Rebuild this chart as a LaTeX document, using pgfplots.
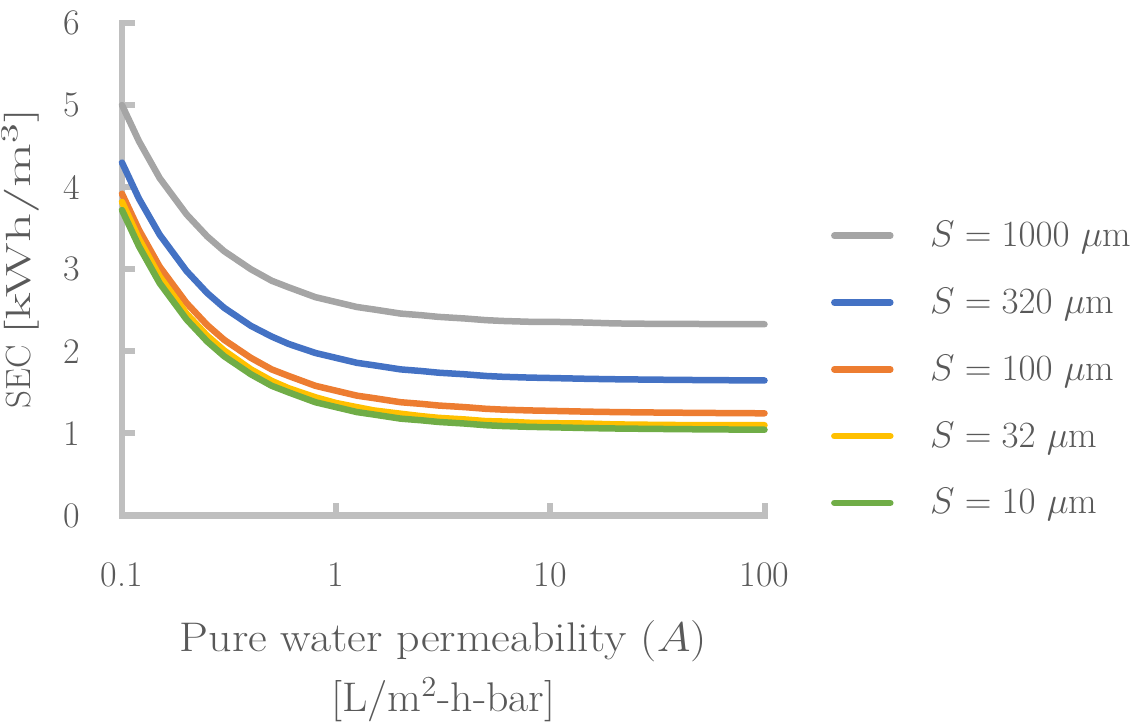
\RequirePackage{fix-cm}
\documentclass[border=0pt]{standalone}
\usepackage{fontspec}
\usepackage{graphicx}
\usepackage{pgfplots}
\usepackage{pgfplotstable}
\pgfplotsset{compat=1.18}
\definecolor{axisgray}{HTML}{BFBFBF}
\definecolor{txtgray}{HTML}{595959}
\definecolor{sgray}{HTML}{A5A5A5}
\definecolor{sblue}{HTML}{4472C4}
\definecolor{sorange}{HTML}{ED7D31}
\definecolor{syellow}{HTML}{FFC000}
\definecolor{sgreen}{HTML}{70AD47}

\pgfplotstableread{
A S1000 S320 S100 S32 S10
0.1  5.00 4.30 3.92 3.82 3.72
0.12 4.56 3.86 3.48 3.37 3.28
0.15 4.11 3.42 3.03 2.91 2.83
0.2  3.67 2.98 2.59 2.46 2.39
0.25 3.40 2.71 2.32 2.19 2.12
0.3  3.22 2.53 2.14 2.01 1.94
0.4  3.00 2.31 1.92 1.78 1.72
0.5  2.86 2.18 1.78 1.64 1.58
0.6  2.78 2.09 1.70 1.55 1.50
0.8  2.66 1.98 1.58 1.44 1.38
1    2.60 1.92 1.52 1.37 1.32
1.25 2.54 1.86 1.46 1.32 1.26
1.5  2.51 1.83 1.43 1.28 1.23
2    2.46 1.78 1.38 1.24 1.18
2.5  2.44 1.76 1.36 1.21 1.16
3    2.42 1.74 1.34 1.19 1.14
4    2.40 1.72 1.32 1.17 1.12
5    2.38 1.70 1.30 1.15 1.10
6    2.37 1.69 1.29 1.145 1.09
8    2.36 1.68 1.28 1.13 1.08
10   2.36 1.675 1.275 1.125 1.075
15   2.35 1.665 1.265 1.12 1.065
20   2.34 1.66 1.26 1.11 1.06
30   2.335 1.655 1.255 1.105 1.055
50   2.333 1.65 1.25 1.10 1.05
100  2.33 1.645 1.245 1.10 1.045
}\sectable

\begin{document}
\begin{tikzpicture}
\path[use as bounding box] (-61pt,-103.75pt) rectangle (508.5pt,257.75pt);
\begin{axis}[
  at={(0pt,0pt)}, anchor=south west,
  scale only axis, width=321.25pt, height=246.25pt,
  xmode=log, log basis x=10,
  xmin=0.1, xmax=100, ymin=0, ymax=6,
  clip=false,
  axis lines=left,
  axis line style={-, draw=axisgray, line width=3.4pt, line cap=rect},
  xtick={0.1,1,10,100}, xticklabels={0.1,1,10,100},
  ytick={0,1,2,3,4,5,6},
  minor xtick={},
  tick align=inside, major tick length=6.5pt,
  major tick style={draw=axisgray, line width=3pt},
  minor tick style={draw=none},
  /pgf/number format/assume math mode=true,
  xticklabel style={font=\fontsize{18}{21.6}\selectfont, text=txtgray, inner sep=0pt, anchor=north, yshift=-23.25pt},
  yticklabel style={font=\fontsize{18}{21.6}\selectfont, text=txtgray, inner sep=0pt, anchor=east, xshift=-20.65pt},
  every axis y label/.style={at={(axis description cs:-0.1429,0.522)}, rotate=90, anchor=base, font=\fontsize{17.5}{21}\selectfont, text=txtgray, inner sep=0pt},
  every axis x label/.style={at={(axis description cs:0.5,0)}, anchor=north, yshift=-52.4pt, align=center, font=\fontsize{20.7}{30}\selectfont, text=txtgray, inner sep=0pt},
  xlabel={\scalebox{1.11}[1]{Pure water permeability ($A$)}\\\scalebox{1.06}[1]{[L/m$^2$-h-bar]}},
  ylabel={SEC \scalebox{1.63}[1]{[kWh/m$^3$]}},
  legend style={at={(axis description cs:1.103,0.2969)}, anchor=west, draw=none, fill=none, inner sep=0pt, row sep=19.25pt, font=\fontsize{18.5}{22}\selectfont, text=txtgray, nodes={inner sep=0pt}, /tikz/every odd column/.append style={column sep=18.3pt}},
  legend cell align=left,
  legend image code/.code={\draw[#1, line cap=round] (0pt,0pt) -- (28pt,0pt);},
  every axis plot/.append style={line width=3.25pt, line cap=round, line join=round},
]
\addplot[sgray]   table[x=A, y=S1000] {\sectable};
\addlegendentry{$S=1000$ $\mu$m}
\addplot[sblue]   table[x=A, y=S320] {\sectable};
\addlegendentry{$S=320$ $\mu$m}
\addplot[sorange] table[x=A, y=S100] {\sectable};
\addlegendentry{$S=100$ $\mu$m}
\addplot[syellow] table[x=A, y=S32] {\sectable};
\addlegendentry{$S=32$ $\mu$m}
\addplot[sgreen]  table[x=A, y=S10] {\sectable};
\addlegendentry{$S=10$ $\mu$m}
\end{axis}
\end{tikzpicture}
\end{document}
